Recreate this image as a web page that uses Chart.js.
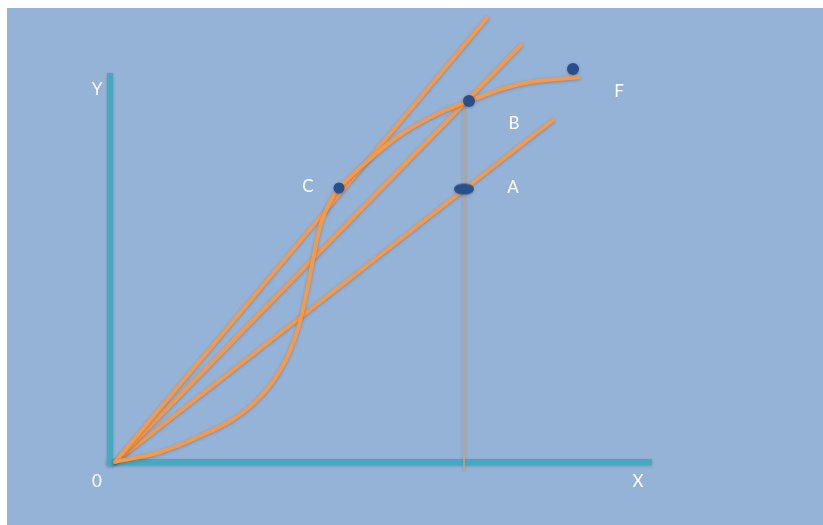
<!DOCTYPE html>
<html>
<head>
<meta charset="utf-8">
<script src="https://cdn.jsdelivr.net/npm/chart.js@4.4.1/dist/chart.umd.min.js"></script>
<style>
  html, body { margin: 0; padding: 0; background: #ffffff; }
  canvas { display: block; }
</style>
</head>
<body>
<canvas id="diagram" width="823" height="525"></canvas>
<script>
// --- DATA (origin O at 0,0) ---
const curveX = [0, 45, 85, 120, 147, 167, 181, 190, 197, 205, 214, 224, 255, 285, 320, 354, 405, 465];
const curveY = [0, 10, 26, 44, 67, 95, 127, 162, 197, 235, 258, 274, 303, 327, 347, 361, 378, 385];

// rays from the origin: end points
const rayEndX = [372, 406, 438];
const rayEndY = [444, 417, 342];

// marked points C, B, A, F
const pointNames = ['C', 'B', 'A', 'F'];
const pointX = [224, 354, 349, 458];
const pointY = [274, 361, 273, 393];

// axes
const yAxisX = [-5, -5];
const yAxisY = [-4, 389];
const xAxisX = [-8, 537];
const xAxisY = [0, 0];

// dropline from B to the x axis
const dropX = [349, 349];
const dropY = [-8, 361];

// text labels
const labelText = ['Y', '0', 'X', 'C', 'B', 'A', 'F'];
const labelX = [-18, -18, 523, 193, 399, 398, 504];
const labelY = [372, -20, -20, 275, 338, 274, 370];

// --- HELPERS ---
const pts = (xs, ys) => xs.map((x, i) => ({ x: x, y: ys[i] }));
const ORANGE = '#f59a4a';
const TEAL = '#45a9c0';
const DOT = '#27508c';

// ellipse marker for point A
const ellipse = document.createElement('canvas');
ellipse.width = 22; ellipse.height = 13;
(function () {
    const c = ellipse.getContext('2d');
    c.fillStyle = DOT;
    c.beginPath();
    c.ellipse(11, 6.5, 10, 5.5, 0, 0, Math.PI * 2);
    c.fill();
})();

const rays = rayEndX.map((x, i) => ({
    data: [{ x: 0, y: 0 }, { x: x, y: rayEndY[i] }],
    showLine: true,
    borderColor: ORANGE, borderWidth: 4, pointRadius: 0, order: 1, borderCapStyle: 'round'
}));

// --- PLUGINS ---
const bgPlugin = {
    id: 'bg',
    beforeDraw(chart) {
        const { ctx, chartArea: a } = chart;
        ctx.save();
        ctx.fillStyle = '#95b3d7';
        ctx.fillRect(a.left, a.top, a.right - a.left, a.bottom - a.top);
        ctx.restore();
    }
};

const shadowPlugin = {
    id: 'glow',
    beforeDatasetDraw(chart) {
        const ctx = chart.ctx;
        ctx.save();
        ctx.shadowColor = 'rgba(60, 60, 90, 0.35)';
        ctx.shadowBlur = 3;
        ctx.shadowOffsetY = 1;
    },
    afterDatasetDraw(chart) {
        chart.ctx.restore();
    }
};

const textPlugin = {
    id: 'texts',
    afterDraw(chart) {
        const { ctx, scales } = chart;
        ctx.save();
        ctx.fillStyle = '#ffffff';
        ctx.font = '17px Lato, "Open Sans", sans-serif';
        ctx.textAlign = 'center';
        ctx.textBaseline = 'middle';
        labelText.forEach((t, i) => {
            ctx.fillText(t, scales.x.getPixelForValue(labelX[i]), scales.y.getPixelForValue(labelY[i]));
        });
        ctx.restore();
    }
};

// --- CHART ---
new Chart(document.getElementById('diagram').getContext('2d'), {
    type: 'scatter',
    data: {
        datasets: [
            {
                label: 'points',
                data: pts(pointX, pointY),
                pointStyle: ['circle', 'circle', ellipse, 'circle'],
                pointRadius: [5.5, 6, 8, 6],
                backgroundColor: DOT,
                borderColor: DOT,
                borderWidth: 0,
                showLine: false,
                order: 0
            },
            {
                label: 'curve',
                data: pts(curveX, curveY),
                showLine: true,
                borderColor: ORANGE,
                borderWidth: 4,
                pointRadius: 0,
                tension: 0.4,
                order: 1
            },
            ...rays,
            {
                label: 'drop',
                data: pts(dropX, dropY),
                showLine: true,
                borderColor: '#d7a27a',
                borderWidth: 1.5,
                pointRadius: 0,
                order: 2
            },
            {
                label: 'yaxis',
                data: pts(yAxisX, yAxisY),
                showLine: true,
                borderColor: TEAL,
                borderWidth: 6,
                pointRadius: 0,
                order: 3
            },
            {
                label: 'xaxis',
                data: pts(xAxisX, xAxisY),
                showLine: true,
                borderColor: TEAL,
                borderWidth: 6,
                pointRadius: 0,
                order: 3
            }
        ]
    },
    options: {
        responsive: false,
        animation: false,
        layout: { autoPadding: false, padding: { left: 7, top: 8, right: 0, bottom: 0 } },
        plugins: {
            legend: { display: false },
            tooltip: { enabled: false }
        },
        scales: {
            x: { type: 'linear', min: -108, max: 708, display: false },
            y: { type: 'linear', min: -63, max: 454, display: false }
        }
    },
    plugins: [bgPlugin, shadowPlugin, textPlugin]
});
</script>
</body>
</html>
